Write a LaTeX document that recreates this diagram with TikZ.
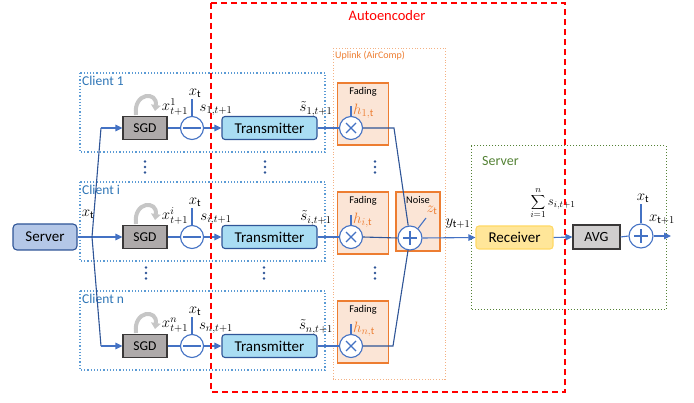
\RequirePackage{fix-cm}
\documentclass[tikz,border=0pt]{standalone}
\usepackage{fontspec}
\setmainfont{Carlito}
\usetikzlibrary{arrows.meta,calc}
\definecolor{lblue}{HTML}{4472C4}
\definecolor{dblue}{HTML}{2F5597}
\definecolor{cliblue}{HTML}{5B9BD5}
\definecolor{clitext}{HTML}{2E75B6}
\definecolor{txfill}{HTML}{A9DDF3}
\definecolor{srvfill}{HTML}{B4C7E7}
\definecolor{sgdfill}{HTML}{AEAAAA}
\definecolor{avgfill}{HTML}{D0CECE}
\definecolor{boxdark}{HTML}{3A3838}
\definecolor{rxfill}{HTML}{FFE699}
\definecolor{rxdraw}{HTML}{FFD966}
\definecolor{fadfill}{HTML}{FBE5D6}
\definecolor{orng}{HTML}{ED7D31}
\definecolor{orngdot}{HTML}{F4B183}
\definecolor{grn}{HTML}{548235}
\begin{document}
\begin{tikzpicture}[x=1pt,y=-1pt,
  flow/.style={lblue, line width=1.1pt},
  arr/.style={flow, -{Triangle[length=7pt,width=6.5pt]}},
  slant/.style={dblue, line width=1.1pt},
  bigtxt/.style={font=\fontsize{15}{17}\selectfont},
  txbox/.style={draw=dblue, line width=1.1pt, fill=txfill, rounded corners=3pt, minimum width=95, minimum height=23, inner sep=0, bigtxt},
  srvbox/.style={draw=dblue, line width=1.1pt, fill=srvfill, rounded corners=4pt, minimum width=64, minimum height=26, inner sep=0, bigtxt},
  rxbox/.style={draw=rxdraw, line width=1.1pt, fill=rxfill, rounded corners=3pt, minimum width=77, minimum height=23, inner sep=0, bigtxt},
  sgdbox/.style={draw=boxdark, line width=1.1pt, fill=sgdfill, minimum width=44, minimum height=23, inner sep=0, font=\fontsize{13.5}{15}\selectfont},
  avgbox/.style={draw=boxdark, line width=1.1pt, fill=avgfill, minimum width=47, minimum height=24, inner sep=0, font=\fontsize{14}{16}\selectfont},
  fadbox/.style={draw=orng, line width=1.3pt, fill=fadfill, minimum width=51, minimum height=62, inner sep=0},
  smalltxt/.style={font=\fontsize{10.3}{12}\selectfont, inner sep=1pt},
  mlab/.style={font=\fontsize{15}{17}\selectfont, inner sep=1pt},
  olab/.style={mlab, orng},
  ring/.style={circle, draw=lblue, line width=1.1pt, fill=white, minimum size=23, inner sep=0},
  minusc/.style={ring, path picture={\draw[lblue, line width=1.1pt]
      ([xshift=-9pt]path picture bounding box.center) -- ([xshift=9pt]path picture bounding box.center);}},
  multc/.style={ring, path picture={\draw[lblue, line width=1.1pt]
      ([shift={(-5pt,-5pt)}]path picture bounding box.center) -- ([shift={(5pt,5pt)}]path picture bounding box.center)
      ([shift={(-5pt,5pt)}]path picture bounding box.center) -- ([shift={(5pt,-5pt)}]path picture bounding box.center);}},
  plusc/.style={ring, minimum size=24, path picture={\draw[lblue, line width=1.6pt]
      ([xshift=-7pt]path picture bounding box.center) -- ([xshift=7pt]path picture bounding box.center)
      ([yshift=-7pt]path picture bounding box.center) -- ([yshift=7pt]path picture bounding box.center);}},
  clidot/.style={cliblue, line width=1.2pt, dotted},
  vdot/.style={dblue, fill=dblue},
  loop/.style={line width=4pt, gray!45, -{Triangle[length=6pt,width=9.5pt]}}
]
\useasboundingbox (0,0) rectangle (694,403);

% frames
\draw[orngdot, line width=0.8pt, dotted] (333,48) rectangle (445,379);
\node[smalltxt, orng, anchor=west, font=\fontsize{10}{12}\selectfont] (upl) at (334,56) {Uplink (AirComp)};
\draw[grn, line width=1pt, dotted] (471,146) rectangle (666,310);
\node[font=\fontsize{14}{16}\selectfont, grn, anchor=west, inner sep=1pt] (srvlab) at (481,161) {Server};

% server
\node[srvbox] (srv) at (45,237) {Server};
\coordinate (j) at (92,237);
\coordinate (t1) at (101,128);
\coordinate (tn) at (101,346);
\node[mlab] (xts) at (88,214) {$x_{\mathrm{t}}$};

% rows
\foreach \r/\y in {1/128, i/237, n/346} {
  \draw[clidot] (80,{\y-55}) rectangle (325,{\y+24});
  \node[font=\fontsize{13.5}{15}\selectfont, clitext, anchor=west, inner sep=1pt] (cl\r) at (81,{\y-47}) {Client \r};
  \node[fadbox] (fad\r) at (363,{\y-14}) {};
  \node[smalltxt, anchor=north] (fadl\r) at ([yshift=-4pt]fad\r.north) {Fading};
  \node[sgdbox] (sgd\r) at (145,\y) {SGD};
  \node[minusc] (mn\r) at (192,\y) {};
  \node[txbox] (tx\r) at (269.5,\y) {Transmitter};
  \node[multc] (mu\r) at (351,\y) {};
  \draw[flow] (sgd\r.east) -- (mn\r.west);
  \draw[arr] (mn\r.east) -- (tx\r.west);
  \draw[flow] (tx\r.east) -- (mu\r.west);
  \coordinate (xt\r) at (192,{\y-29});
  \draw[flow] (mn\r.north) -- (xt\r);
  \node[mlab, anchor=south] (lxt\r) at ([xshift=3pt]xt\r) {$x_{\mathrm{t}}$};
  \node[mlab] (lx\r) at (175,{\y-21}) {$x^{\r}_{t+1}$};
  \node[mlab] (ls\r) at (216,{\y-18}) {$s_{\r,t+1}$};
  \node[mlab] (lst\r) at (316,{\y-19}) {$\tilde{s}_{\r,t+1}$};
  \coordinate (h\r) at (351,{\y-22});
  \draw[flow] (mu\r.north) -- (h\r);
  \node[olab, anchor=west] (lh\r) at (352,{\y-17}) {$h_{\r,\mathrm{t}}$};
  \draw[loop] (136,{\y-13}) .. controls (133,{\y-36}) and (158,{\y-37}) .. (155,{\y-17});
}

% server fan-out
\draw[arr] (srv.east) -- (sgdi.west);
\draw[slant] (t1) -- (j) -- (tn);
\draw[arr] (t1) -- (sgd1.west);
\draw[arr] (tn) -- (sgdn.west);

% vertical dots
\foreach \px/\py in {145/167, 265/167, 375/167, 146/273, 264/273, 375/273} {
  \fill[vdot] (\px,{\py-5.5}) circle (1.3) (\px,\py) circle (1.3) (\px,{\py+5.5}) circle (1.3);
}

% noise and sum
\node[fadbox, minimum width=44, minimum height=59] (noise) at (418,221.5) {};
\node[smalltxt, anchor=north] (noisel) at ([yshift=-4pt]noise.north) {Noise};
\node[plusc] (sum) at (410,238) {};
\coordinate (k1) at (394,128);
\coordinate (kn) at (393,346);
\draw[slant] (mu1.east) -- (k1) -- (sum);
\draw[slant] (mui.east) -- (sum.west);
\draw[slant] (mun.east) -- (kn) -- (sum);
\coordinate (zt) at (426,218);
\draw[flow] (sum.50) -- (zt);
\node[olab] (lz) at (432,210) {$z_{\mathrm{t}}$};

% receiver side
\node[rxbox] (rx) at (514.5,237.5) {Receiver};
\draw[arr] (sum.east) -- (rx.west);
\node[mlab] (ly) at (458,224) {$y_{\mathrm{t}+1}$};
\node[avgbox] (avg) at (596.5,237) {AVG};
\draw[arr] (rx.east) -- (avg.west);
\node[font=\fontsize{13}{15}\selectfont, inner sep=0] (lsum) at (553,203) {$\displaystyle\sum_{i=1}^{n} s_{i,t+1}$};
\node[plusc] (pl) at (641,236) {};
\draw[flow] (avg.east) -- (pl.west);
\coordinate (xtr) at (641,204);
\draw[flow] (pl.north) -- (xtr);
\node[mlab, anchor=south] (lxtr) at ([xshift=2pt]xtr) {$x_{\mathrm{t}}$};
\coordinate (out) at (671,236);
\draw[arr] (pl.east) -- (out);
\node[mlab] (lxo) at (662,220) {$x_{\mathrm{t}+1}$};

% autoencoder frame
\draw[red, line width=1.2pt, dash pattern=on 6pt off 4pt] (211,3) rectangle (565,392);
\node[font=\fontsize{14.5}{16}\selectfont, red, inner sep=1pt] (ae) at (387,16) {Autoencoder};
\end{tikzpicture}
\end{document}
